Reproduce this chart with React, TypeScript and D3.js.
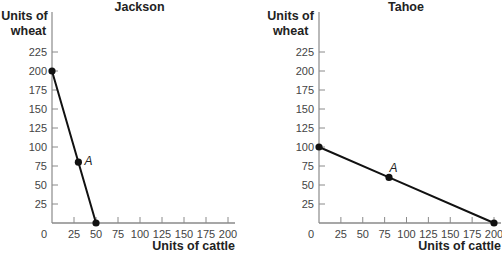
import React from "react";
import * as d3 from "d3";

const panelTitles = ["Jackson", "Tahoe"];
const xTickValues = [25, 50, 75, 100, 125, 150, 175, 200];
const yTickValues = [25, 50, 75, 100, 125, 150, 175, 200, 225];
const jacksonCattle = [0, 30, 50];
const jacksonWheat = [200, 80, 0];
const tahoeCattle = [0, 80, 200];
const tahoeWheat = [100, 60, 0];
const pointLabels = ["", "A", ""];

const FONT = "'Liberation Sans', Arial, Helvetica, sans-serif";

type PanelProps = {
  title: string;
  cattle: number[];
  wheat: number[];
  x0: number;
  x1: number;
  titleX: number;
  unitsX: number;
  wheatX: number;
  labelDx: number;
  labelDy: number;
};

function Panel({ title, cattle, wheat, x0, x1, titleX, unitsX, wheatX, labelDx, labelDy }: PanelProps) {
  const x = d3.scaleLinear().domain([0, 200]).range([x0, x1]);
  const y = d3.scaleLinear().domain([0, 225]).range([223, 52]);
  const pts = cattle.map((c, i) => ({ c, w: wheat[i], label: pointLabels[i] }));
  const line = d3
    .line<{ c: number; w: number }>()
    .x((d) => x(d.c))
    .y((d) => y(d.w));
  const axisColor = "#8a8a8a";
  const tickText = "#444";
  return (
    <g>
      <text x={titleX} y={11} textAnchor="middle" fontFamily={FONT} fontWeight="bold" fontSize={12.5} fill="#222">
        {title}
      </text>
      <text x={unitsX} y={20} textAnchor="middle" fontFamily={FONT} fontWeight="bold" fontSize={12.5} fill="#222">
        Units of
      </text>
      <text x={wheatX} y={35} textAnchor="middle" fontFamily={FONT} fontWeight="bold" fontSize={12.5} fill="#222">
        wheat
      </text>
      {/* y axis */}
      <line x1={x(0)} x2={x(0)} y1={12} y2={y(0)} stroke={axisColor} strokeWidth={1.2} />
      {yTickValues.map((v) => (
        <g key={"y" + v}>
          <line x1={x(0)} x2={x(0) + 6} y1={y(v)} y2={y(v)} stroke={axisColor} strokeWidth={1} />
          <text x={x(0) - 5} y={y(v) + 4} textAnchor="end" fontFamily={FONT} fontSize={11} fill={tickText}>
            {v}
          </text>
        </g>
      ))}
      {/* x axis */}
      <line x1={x(0)} x2={x(200) + 7} y1={y(0)} y2={y(0)} stroke={axisColor} strokeWidth={1.4} />
      {xTickValues.map((v) => (
        <g key={"x" + v}>
          <line x1={x(v)} x2={x(v)} y1={y(0)} y2={y(0) - 6} stroke={axisColor} strokeWidth={1} />
          <text x={x(v)} y={y(0) + 15} textAnchor="middle" fontFamily={FONT} fontSize={11} fill={tickText}>
            {v}
          </text>
        </g>
      ))}
      <text x={x(0) - 8} y={y(0) + 15} textAnchor="middle" fontFamily={FONT} fontSize={11} fill={tickText}>
        0
      </text>
      <text x={x(200) + 7} y={250} textAnchor="end" fontFamily={FONT} fontWeight="bold" fontSize={12.5} fill="#222">
        Units of cattle
      </text>
      {/* data */}
      <path d={line(pts) || ""} fill="none" stroke="#111" strokeWidth={2} />
      {pts.map((p, i) => (
        <g key={"p" + i}>
          <circle cx={x(p.c)} cy={y(p.w)} r={3.6} fill="#111" />
          {p.label && (
            <text
              x={x(p.c) + labelDx}
              y={y(p.w) + labelDy}
              fontFamily={FONT}
              fontStyle="italic"
              fontSize={12}
              fill="#222"
            >
              {p.label}
            </text>
          )}
        </g>
      ))}
    </g>
  );
}

export default function App() {
  return (
    <svg width={502} height={254} style={{ position: "absolute", left: 0, top: 0, background: "#fff" }}>
      <Panel
        title={panelTitles[0]}
        cattle={jacksonCattle}
        wheat={jacksonWheat}
        x0={52}
        x1={228}
        titleX={139.5}
        unitsX={24.5}
        wheatX={28.5}
        labelDx={6}
        labelDy={3}
      />
      <Panel
        title={panelTitles[1]}
        cattle={tahoeCattle}
        wheat={tahoeWheat}
        x0={319}
        x1={494}
        titleX={406}
        unitsX={290.6}
        wheatX={290.6}
        labelDx={0.5}
        labelDy={-5}
      />
    </svg>
  );
}
